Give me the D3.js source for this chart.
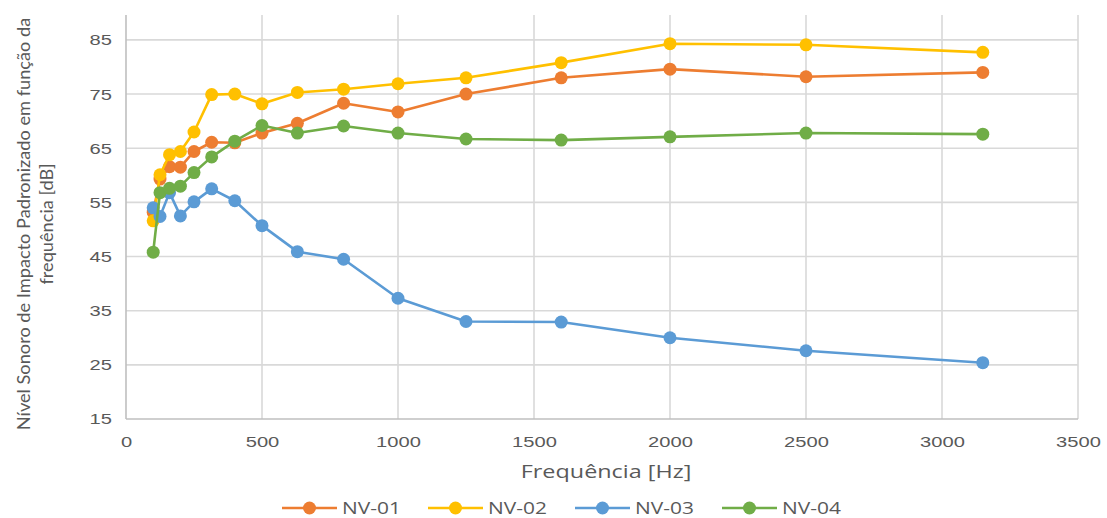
<!DOCTYPE html>
<html>
<head>
<meta charset="utf-8">
<script src="https://cdn.jsdelivr.net/npm/d3@7"></script>
<style>
  body { margin: 0; background: #fff; }
  svg { display: block; font-family: "Open Sans", sans-serif; }
  .tick text { fill: #595959; font-size: 15.5px; }
</style>
</head>
<body>
<svg id="chart" width="1107" height="518"></svg>
<script>
// Nível sonoro de impacto padronizado - NV-01..NV-04
const frequencies = [100, 125, 160, 200, 250, 315, 400, 500, 630, 800, 1000, 1250, 1600, 2000, 2500, 3150];
const nv01 = [53.2, 59.3, 61.6, 61.5, 64.4, 66.1, 66.0, 67.8, 69.6, 73.3, 71.7, 75.0, 78.0, 79.6, 78.2, 79.0];
const nv02 = [51.6, 60.1, 63.8, 64.4, 68.0, 74.9, 75.0, 73.2, 75.3, 75.9, 76.9, 78.0, 80.8, 84.3, 84.1, 82.7];
const nv03 = [54.0, 52.4, 56.8, 52.5, 55.1, 57.5, 55.3, 50.7, 45.9, 44.5, 37.3, 33.0, 32.9, 30.0, 27.6, 25.4];
const nv04 = [45.8, 56.8, 57.6, 58.0, 60.5, 63.4, 66.3, 69.2, 67.8, 69.1, 67.8, 66.7, 66.5, 67.1, 67.8, 67.6];
const seriesNames = ["NV-01", "NV-02", "NV-03", "NV-04"];
const xTicks = [0, 500, 1000, 1500, 2000, 2500, 3000, 3500];
const yTicks = [15, 25, 35, 45, 55, 65, 75, 85];

const colors = ["#ED7D31", "#FFC000", "#5B9BD5", "#70AD47"];
const allSeries = [nv01, nv02, nv03, nv04].map((vals, i) => ({
    name: seriesNames[i],
    color: colors[i],
    points: vals.map((v, j) => ({ f: frequencies[j], v: v }))
}));

const svg = d3.select("#chart");
const plotLeft = 126, plotRight = 1078, plotTop = 15, plotBottom = 419;
const stretch = 1.3; // the source picture is widened horizontally

const x = d3.scaleLinear().domain([0, 3500]).range([plotLeft, plotRight]);
const y = d3.scaleLinear().domain([15, 89.6]).range([plotBottom, plotTop]);

// gridlines
const grid = svg.append("g");
grid.selectAll(".vg").data(xTicks.slice(1)).enter().append("line")
    .attr("x1", d => x(d)).attr("x2", d => x(d))
    .attr("y1", plotTop).attr("y2", plotBottom)
    .attr("stroke", "#d9d9d9").attr("stroke-width", 1.6);
grid.selectAll(".hg").data(yTicks.slice(1)).enter().append("line")
    .attr("x1", plotLeft).attr("x2", plotRight)
    .attr("y1", d => y(d)).attr("y2", d => y(d))
    .attr("stroke", "#d9d9d9").attr("stroke-width", 1.6);

// axes
const xAxis = svg.append("g")
    .attr("transform", `translate(0,${plotBottom})`)
    .call(d3.axisBottom(x).tickValues(xTicks).tickFormat(d3.format("d")).tickSize(0).tickPadding(17));
const yAxis = svg.append("g")
    .attr("transform", `translate(${plotLeft},0)`)
    .call(d3.axisLeft(y).tickValues(yTicks).tickFormat(d3.format("d")).tickSize(0));
[xAxis, yAxis].forEach(a => a.select(".domain").attr("stroke", "#bfbfbf").attr("stroke-width", 1.6));
yAxis.select(".domain").attr("d", `M0,${plotTop}V${plotBottom}`);
xAxis.select(".domain").attr("d", `M${plotLeft},0H${plotRight}`);
xAxis.selectAll(".tick text").attr("transform", `scale(${stretch},1)`);
yAxis.selectAll(".tick text").attr("x", -14 / stretch).attr("transform", `scale(${stretch},1)`);

// axis titles
svg.append("text")
    .attr("transform", `translate(${(plotLeft + plotRight) / 2 + 4},478) scale(${stretch},1)`)
    .attr("text-anchor", "middle")
    .attr("fill", "#595959").attr("font-size", 18)
    .text("Frequência [Hz]");

const yTitle = svg.append("text")
    .attr("transform", "translate(0,224) rotate(-90)")
    .attr("text-anchor", "middle")
    .attr("fill", "#595959").attr("font-family", "Lato, sans-serif").attr("font-size", 18.2);
yTitle.append("tspan").attr("x", 0).attr("y", 30).text("Nível Sonoro de Impacto Padronizado em função da");
yTitle.append("tspan").attr("x", 0).attr("y", 53).text("frequência [dB]");

// series
const line = d3.line().x(d => x(d.f)).y(d => y(d.v));
const sg = svg.append("g").selectAll("g").data(allSeries).enter().append("g");
sg.append("path")
    .attr("d", d => line(d.points))
    .attr("fill", "none")
    .attr("stroke", d => d.color)
    .attr("stroke-width", 2.6)
    .attr("stroke-linejoin", "round");
sg.selectAll("circle").data(d => d.points.map(p => ({ p: p, color: d.color }))).enter().append("circle")
    .attr("cx", d => x(d.p.f)).attr("cy", d => y(d.p.v))
    .attr("r", 6.5)
    .attr("fill", d => d.color);

// legend
const legendX = [282, 428, 575, 722];
const lg = svg.append("g").selectAll("g").data(allSeries).enter().append("g")
    .attr("transform", (d, i) => `translate(${legendX[i]},508)`);
lg.append("line").attr("x1", 0).attr("x2", 55).attr("y1", 0).attr("y2", 0)
    .attr("stroke", d => d.color).attr("stroke-width", 2.6);
lg.append("circle").attr("cx", 27.5).attr("cy", 0).attr("r", 6.5).attr("fill", d => d.color);
lg.append("text").attr("transform", `translate(60,5.5) scale(1.35,1)`)
    .attr("fill", "#595959").attr("font-size", 15.5)
    .text(d => d.name);
</script>
</body>
</html>
